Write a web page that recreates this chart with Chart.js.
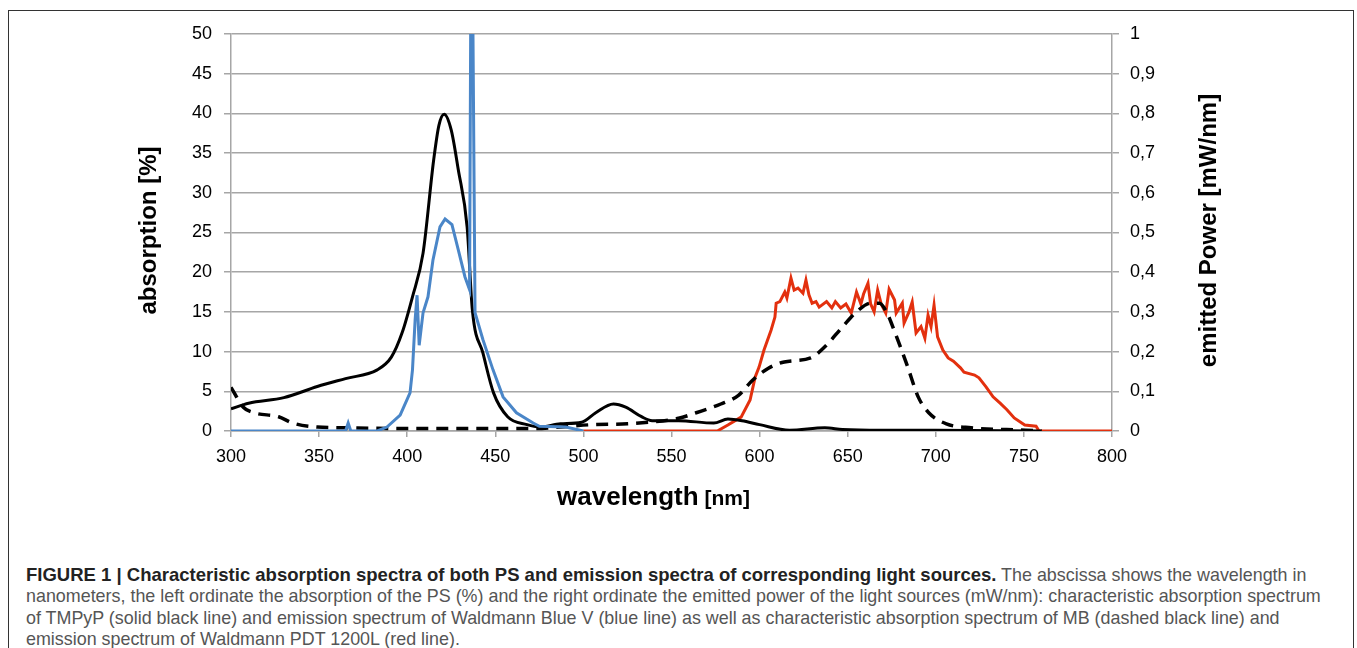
<!DOCTYPE html>
<html>
<head>
<meta charset="utf-8">
<script src="https://cdn.jsdelivr.net/npm/chart.js@4"></script>
<style>
  html, body { margin: 0; padding: 0; background: #fff; }
  #frame { position: absolute; left: 8px; top: 10px; width: 1346px; height: 700px; border: 1.5px solid #333; box-sizing: border-box; z-index: 2; pointer-events: none; }
  #wrap { position: absolute; left: 0; top: 0; width: 1357px; height: 520px; z-index: 1; }
  #caption { position: absolute; left: 26px; top: 564px; font-family: "Liberation Sans", Arial, sans-serif; font-size: 17.9px; line-height: 21.4px; color: #555; white-space: nowrap; z-index: 1; }
  #caption b { color: #222; font-size: 18.5px; }
</style>
</head>
<body>
<div id="wrap"><canvas id="chart_spectra"></canvas></div>
<div id="caption"><b>FIGURE 1 | Characteristic absorption spectra of both PS and emission spectra of corresponding light sources.</b> The abscissa shows the wavelength in<br>nanometers, the left ordinate the absorption of the PS (%) and the right ordinate the emitted power of the light sources (mW/nm): characteristic absorption spectrum<br>of TMPyP (solid black line) and emission spectrum of Waldmann Blue V (blue line) as well as characteristic absorption spectrum of MB (dashed black line) and<br>emission spectrum of Waldmann PDT 1200L (red line).</div>
<div id="frame"></div>
<script>
// TMPyP absorption (%), left axis
var tmpypNm = [300, 310, 330, 349, 365, 383, 391, 397, 403, 409, 415, 418, 421, 425, 429, 434, 437, 443, 449, 457, 468, 475, 487, 499, 507, 517, 524, 533, 539, 554, 574, 582, 590, 600, 617, 637, 647, 669, 700, 760];
var tmpypAbs = [2.8, 3.5, 4.2, 5.6, 6.6, 7.7, 9.3, 12.3, 16.9, 22.4, 34.1, 38.5, 39.9, 37.9, 32.9, 25.7, 15.2, 9.8, 4.8, 1.8, 0.8, 0.5, 0.9, 1.1, 2.3, 3.4, 3.0, 1.8, 1.3, 1.3, 1.0, 1.5, 1.3, 0.8, 0.1, 0.4, 0.2, 0.1, 0.1, 0];

// MB absorption (%), left axis
var mbNm = [300, 307, 313, 327, 335, 349, 366, 400, 440, 470, 487, 505, 525, 537, 554, 564, 578, 588, 596, 605, 614, 629, 637, 647, 655, 663, 668, 672, 677, 684, 690, 696, 706, 720, 751, 760];
var mbAbs = [5.5, 3.0, 2.3, 1.8, 1.0, 0.5, 0.4, 0.3, 0.3, 0.3, 0.5, 0.8, 0.9, 1.1, 1.6, 2.3, 3.4, 4.5, 6.4, 7.9, 8.7, 9.2, 10.6, 13.1, 15.0, 16.1, 16.1, 15.0, 12.3, 8.1, 4.3, 2.3, 0.9, 0.4, 0.1, 0];

// Waldmann Blue V emission (mW/nm), right axis
var blueNm = [300, 365, 366.5, 368, 383, 388.5, 396, 401.6, 403, 404.5, 405.6, 406.8, 409, 411.8, 414.6, 418.6, 421.5, 425.4, 429, 432.8, 435.4, 436.2, 437, 438.5, 443, 448.7, 454.4, 462, 471.5, 475, 490, 500];
var bluePow = [0, 0, 0.02, 0, 0, 0.01, 0.04, 0.096, 0.154, 0.28, 0.342, 0.216, 0.298, 0.338, 0.43, 0.514, 0.534, 0.52, 0.456, 0.388, 0.356, 1.2, 1.2, 0.298, 0.23, 0.154, 0.086, 0.046, 0.02, 0.012, 0.01, 0];

// Waldmann PDT 1200L emission (mW/nm), right axis
var redNm = [500, 576, 582, 589.5, 594.6, 597.5, 599.7, 602.5, 606.5, 608.7, 609.4, 611.5, 614.3, 615.5, 617.8, 619.6, 621.8, 624.6, 626.3, 628, 629.8, 632, 633.8, 638, 641, 643, 646, 649, 652, 655, 657.5, 659, 661.5, 663, 665, 667, 669, 671.6, 673.5, 676.6, 677.5, 681, 682, 684.8, 686.6, 688.8, 691.6, 693.8, 695.6, 697.3, 699, 701, 704, 707, 710, 714, 716, 722, 724.5, 728.5, 732.5, 736.5, 740.5, 744.5, 750.5, 756.9, 758.6, 800];
var redPow = [0, 0, 0.015, 0.035, 0.078, 0.136, 0.161, 0.204, 0.254, 0.287, 0.322, 0.326, 0.35, 0.335, 0.385, 0.355, 0.36, 0.347, 0.38, 0.343, 0.322, 0.326, 0.312, 0.326, 0.31, 0.326, 0.31, 0.32, 0.297, 0.35, 0.32, 0.345, 0.372, 0.32, 0.3, 0.355, 0.32, 0.297, 0.357, 0.33, 0.297, 0.322, 0.272, 0.3, 0.325, 0.247, 0.263, 0.234, 0.292, 0.263, 0.317, 0.237, 0.204, 0.184, 0.176, 0.159, 0.148, 0.141, 0.134, 0.111, 0.086, 0.07, 0.053, 0.033, 0.015, 0.012, 0, 0];

var xTicks = [300, 800, 50];
var leftTicks = [0, 50, 5];
var rightTicks = [0, 1, 0.1];

function pairs(xs, ys) {
    return xs.map(function(x, i) { return { x: x, y: ys[i] }; });
}

var gridGray = '#a6a6a6';
var tickFont = { family: 'Liberation Sans, Arial, sans-serif', size: 18 };

var chart_spectra = new Chart(document.getElementById('chart_spectra'), {
    type: 'line',
    data: {
        datasets: [
            {
                label: 'Waldmann Blue V',
                data: pairs(blueNm, bluePow),
                yAxisID: 'y1',
                borderColor: '#4a86c8',
                borderWidth: 3,
                pointRadius: 0,
                tension: 0
            },
            {
                label: 'TMPyP',
                data: pairs(tmpypNm, tmpypAbs),
                yAxisID: 'y',
                borderColor: '#000',
                borderWidth: 3,
                pointRadius: 0,
                cubicInterpolationMode: 'monotone'
            },
            {
                label: 'MB',
                data: pairs(mbNm, mbAbs),
                yAxisID: 'y',
                borderColor: '#000',
                borderWidth: 3.5,
                borderDash: [12, 8],
                pointRadius: 0,
                cubicInterpolationMode: 'monotone'
            },
            {
                label: 'Waldmann PDT 1200L',
                data: pairs(redNm, redPow),
                yAxisID: 'y1',
                borderColor: '#e3300e',
                borderWidth: 3,
                pointRadius: 0,
                tension: 0
            }
        ]
    },
    options: {
        animation: false,
        responsive: true,
        maintainAspectRatio: false,
        layout: {
            padding: { left: 135, right: 132, top: 34, bottom: 0 }
        },
        plugins: {
            legend: { display: false },
            tooltip: { enabled: false }
        },
        scales: {
            x: {
                type: 'linear',
                min: xTicks[0],
                max: xTicks[1],
                ticks: { stepSize: xTicks[2], color: '#000', font: tickFont, padding: 9, maxRotation: 0 },
                grid: { drawOnChartArea: false, color: gridGray, lineWidth: 1.5, tickLength: 6 },
                border: { color: gridGray, width: 1.5 },
                afterFit: function(scale) { scale.height = 89; }
            },
            y: {
                position: 'left',
                min: leftTicks[0],
                max: leftTicks[1],
                ticks: { stepSize: leftTicks[2], color: '#000', font: tickFont, padding: 12 },
                grid: { color: gridGray, lineWidth: 1.5, tickLength: 7 },
                border: { color: gridGray, width: 1.5 },
                afterFit: function(scale) { scale.width = 96; }
            },
            y1: {
                position: 'right',
                min: rightTicks[0],
                max: rightTicks[1],
                ticks: {
                    stepSize: rightTicks[2], color: '#000', font: tickFont, padding: 11,
                    callback: function(value) {
                        return String(Math.round(value * 10) / 10).replace('.', ',');
                    }
                },
                grid: { drawOnChartArea: false, color: gridGray, lineWidth: 1.5, tickLength: 7 },
                border: { color: gridGray, width: 1.5 },
                afterFit: function(scale) { scale.width = 113; }
            }
        }
    },
    plugins: [{
        id: 'axisTitles',
        afterDraw: (chart) => {
            const ctx = chart.ctx;
            const area = chart.chartArea;
            const midY = (area.top + area.bottom) / 2 - 2;
            ctx.save();
            ctx.fillStyle = '#000';
            ctx.textBaseline = 'middle';
            ctx.textAlign = 'center';
            ctx.font = 'bold 24px "Liberation Sans", Arial, sans-serif';
            // left title
            ctx.save();
            ctx.translate(area.left - 82, midY);
            ctx.rotate(-Math.PI / 2);
            ctx.fillText('absorption [%]', 0, 0);
            ctx.restore();
            // right title (reads bottom to top, like the left one)
            ctx.save();
            ctx.translate(area.right + 97, midY);
            ctx.rotate(-Math.PI / 2);
            ctx.fillText('emitted Power [mW/nm]', 0, 0);
            ctx.restore();
            // bottom title, two sizes
            ctx.textBaseline = 'alphabetic';
            ctx.textAlign = 'left';
            const big = 'bold 26px "Liberation Sans", Arial, sans-serif';
            const small = 'bold 21px "Liberation Sans", Arial, sans-serif';
            ctx.font = big;
            const w1 = ctx.measureText('wavelength').width;
            ctx.font = small;
            const w2 = ctx.measureText(' [nm]').width;
            const x0 = (area.left + area.right) / 2 - 18 - (w1 + w2) / 2;
            const base = area.bottom + 74;
            ctx.font = big;
            ctx.fillText('wavelength', x0, base);
            ctx.font = small;
            ctx.fillText(' [nm]', x0 + w1, base);
            ctx.restore();
        }
    }]
});
</script>
</body>
</html>
